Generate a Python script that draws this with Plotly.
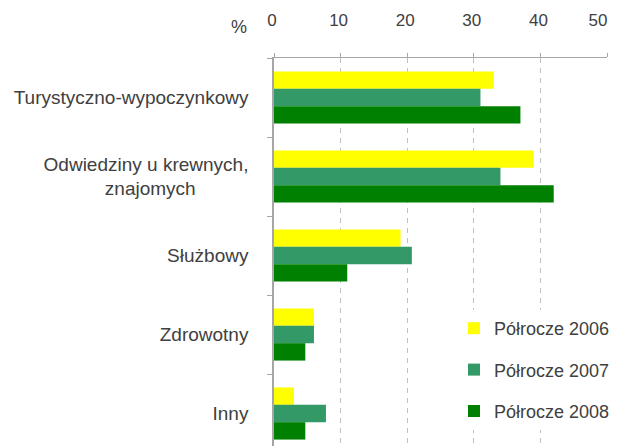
import plotly.graph_objects as go

categories = [
    "Turystyczno-wypoczynkowy",
    "Odwiedziny u krewnych,<br>znajomych" + "\u00a0" * 10,
    "Służbowy",
    "Zdrowotny",
    "Inny",
]
series_names = ["Półrocze 2006", "Półrocze 2007", "Półrocze 2008"]
values_2006 = [33, 39, 19, 6, 3]
values_2007 = [31, 34, 20.7, 6, 7.8]
values_2008 = [37, 42, 11, 4.7, 4.7]
colors = ["#FFFF00", "#339966", "#008000"]
x_ticks = [0, 10, 20, 30, 40, 50]

FONT = "Liberation Sans, Arial, sans-serif"
TXT = "#404040"

# keep the last tick label inside the visible page edge
x_ticktext = [str(v) for v in x_ticks]
x_ticktext[-1] = x_ticktext[-1] + "\u00a0" * 3

fig = go.Figure()
for i, (name, vals) in enumerate(zip(series_names, [values_2006, values_2007, values_2008])):
    fig.add_trace(go.Bar(
        y=categories, x=vals, name=name, orientation="h",
        marker=dict(color=colors[i], line=dict(width=0)),
        legendgroup=name, hoverinfo="x+y",
    ))

PLOT_H = 388  # page body has an 8px margin, so the figure is 8px smaller
fig.update_layout(
    width=609, height=438,
    margin=dict(l=266, r=10, t=50, b=0, autoexpand=False),
    paper_bgcolor="white", plot_bgcolor="white",
    barmode="group", bargap=0.34, bargroupgap=0,
    font=dict(family=FONT, size=18, color=TXT),
    showlegend=True,
    legend=dict(
        x=(454 - 274) / 333, xanchor="left", y=(446 - 310) / PLOT_H, yanchor="top",
        bgcolor="white", borderwidth=0,
        font=dict(family=FONT, size=18, color=TXT),
        tracegroupgap=15, traceorder="grouped",
    ),
    xaxis=dict(
        side="top", range=[0, 50], tickvals=x_ticks, ticktext=x_ticktext,
        automargin=False,
        showgrid=True, gridcolor="#C0C0C0", gridwidth=1, griddash="5px,5px",
        showline=True, linecolor="#A6A6A6", linewidth=1.3,
        ticks="outside", ticklen=4, tickcolor="#A6A6A6",
        zeroline=False, ticklabelstandoff=20, ticklabeloverflow="allow",
        ticklabelshift=-2,
        tickfont=dict(family=FONT, size=17, color=TXT),
    ),
    yaxis=dict(
        type="category", categoryorder="array", categoryarray=categories,
        range=[-0.5 + PLOT_H / 79, -0.5], tickson="boundaries", automargin=False,
        ticks="outside", ticklen=5, tickcolor="#A6A6A6",
        showline=True, linecolor="#A6A6A6", linewidth=1.5,
        showgrid=False, zeroline=False,
        ticklabelstandoff=20,
        tickfont=dict(family=FONT, size=19, color=TXT),
    ),
    annotations=[dict(
        text="%", xref="paper", yref="paper", x=(239 - 274) / 333, y=1 + 31 / PLOT_H,
        xanchor="center", yanchor="middle",
        showarrow=False, font=dict(family=FONT, size=18, color=TXT),
    )],
)

fig.write_html("out.html")
